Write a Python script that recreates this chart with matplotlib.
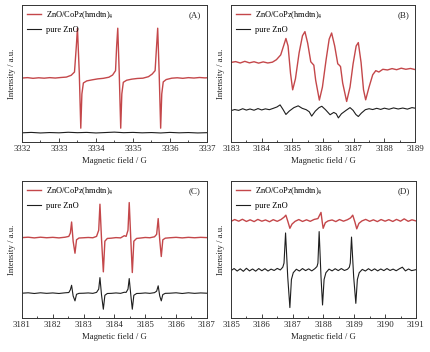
import matplotlib
matplotlib.use("Agg")
import matplotlib.pyplot as plt
from matplotlib.ticker import MultipleLocator

plt.rcParams["font.family"] = ["Liberation Serif", "DejaVu Serif"]
plt.rcParams["mathtext.fontset"] = "stix"

RED = "#c4474a"
BLACK = "#1e1e1e"
label_red = "ZnO/CoPz(hmdtn)$_4$"
label_black = "pure ZnO"

# ---- panel A ----
a_red_field = [3332.00, 3332.15, 3332.30, 3332.45, 3332.60, 3332.75, 3332.90, 3333.05,
               3333.20, 3333.33, 3333.42, 3333.47, 3333.50, 3333.55, 3333.59, 3333.62,
               3333.66, 3333.75, 3333.90, 3334.05, 3334.20, 3334.35, 3334.45, 3334.53,
               3334.56, 3334.59, 3334.63, 3334.67, 3334.70, 3334.74, 3334.83, 3334.97,
               3335.12, 3335.27, 3335.42, 3335.52, 3335.60, 3335.64, 3335.67, 3335.71,
               3335.75, 3335.78, 3335.82, 3335.90, 3336.05, 3336.20, 3336.35, 3336.50,
               3336.65, 3336.80, 3336.95, 3337.00]
a_red = [46.6, 46.9, 46.4, 46.8, 46.5, 46.9, 46.6, 47.0,
         47.3, 48.6, 51.0, 70.0, 83.0, 50.0, 10.0, 35.0,
         43.0, 44.5, 45.3, 46.0, 46.4, 47.2, 48.8, 52.0,
         70.0, 83.0, 50.0, 10.0, 35.0, 43.5, 45.0, 45.8,
         46.3, 46.5, 47.6, 49.5, 52.0, 70.0, 83.0, 50.0,
         10.0, 35.0, 43.8, 45.5, 46.5, 46.8, 46.4, 46.9,
         46.6, 47.0, 46.7, 46.8]
a_black_field = [3332.00, 3332.25, 3332.50, 3332.75, 3333.00, 3333.25, 3333.50, 3333.75,
                 3334.00, 3334.25, 3334.50, 3334.75, 3335.00, 3335.25, 3335.50, 3335.75,
                 3336.00, 3336.25, 3336.50, 3336.75, 3337.00]
a_black = [6.6, 6.9, 6.5, 6.8, 6.6, 7.0, 6.7, 6.9, 6.5, 6.8, 7.1, 6.7, 6.9, 6.6, 6.8,
           6.5, 6.9, 6.6, 6.8, 6.5, 6.7]

# ---- panel B ----
b_red_field = [3183.00, 3183.15, 3183.30, 3183.45, 3183.60, 3183.75, 3183.90, 3184.05,
               3184.20, 3184.35, 3184.48, 3184.62, 3184.72, 3184.79, 3184.86, 3184.94,
               3185.01, 3185.10, 3185.22, 3185.33, 3185.41, 3185.50, 3185.60, 3185.66,
               3185.70, 3185.76, 3185.88, 3185.98, 3186.10, 3186.20, 3186.28, 3186.38,
               3186.48, 3186.53, 3186.57, 3186.64, 3186.77, 3186.88, 3186.98, 3187.08,
               3187.15, 3187.24, 3187.32, 3187.39, 3187.50, 3187.62, 3187.72, 3187.82,
               3187.95, 3188.10, 3188.25, 3188.40, 3188.55, 3188.70, 3188.85, 3189.00]
b_red = [58.0, 58.6, 57.6, 58.8, 57.7, 58.5, 57.5, 58.4,
         57.6, 58.2, 60.0, 63.5, 70.5, 75.5, 70.0, 50.0,
         38.0, 46.0, 65.0, 77.5, 80.5, 72.0, 58.5, 57.0,
         56.0, 45.0, 30.5, 40.0, 60.0, 75.0, 79.5, 70.0,
         57.0, 56.0, 55.0, 43.0, 29.5, 40.0, 57.0, 70.0,
         72.5, 58.0, 38.0, 30.7, 40.0, 49.0, 52.0, 51.0,
         53.0, 52.5, 53.5, 52.7, 53.8, 53.0, 53.6, 52.8]
b_black_field = [3183.00, 3183.12, 3183.25, 3183.38, 3183.50, 3183.62, 3183.75, 3183.88,
                 3184.00, 3184.12, 3184.25, 3184.38, 3184.50, 3184.60, 3184.70, 3184.79,
                 3184.90, 3185.05, 3185.19, 3185.32, 3185.45, 3185.55, 3185.63, 3185.75,
                 3185.87, 3185.96, 3186.08, 3186.23, 3186.35, 3186.43, 3186.50, 3186.60,
                 3186.75, 3186.88, 3186.98, 3187.07, 3187.15, 3187.25, 3187.38, 3187.50,
                 3187.62, 3187.75, 3187.88, 3188.00, 3188.15, 3188.30, 3188.45, 3188.60,
                 3188.75, 3188.90, 3189.00]
b_black = [22.8, 23.6, 23.0, 24.2, 23.2, 24.0, 23.1, 24.3,
           23.3, 24.1, 23.5, 24.5, 25.5, 27.0, 23.5, 20.0,
           22.5, 25.0, 26.3, 24.5, 23.5, 22.0, 18.8, 22.5,
           25.0, 26.0, 23.5, 19.8, 21.5, 20.5, 17.5, 20.5,
           23.0, 25.0, 23.0, 20.0, 18.5, 21.0, 23.5, 24.2,
           23.6, 24.5, 23.7, 24.6, 23.8, 24.8, 24.0, 24.7,
           23.9, 25.0, 24.6]

# ---- panel C ----
c_field = [3181.00, 3181.20, 3181.40, 3181.60, 3181.80, 3182.00, 3182.20, 3182.40,
           3182.52, 3182.57, 3182.61, 3182.66, 3182.72, 3182.77, 3182.85, 3183.00,
           3183.15, 3183.30, 3183.42, 3183.49, 3183.53, 3183.58, 3183.64, 3183.69,
           3183.77, 3183.90, 3184.05, 3184.20, 3184.32, 3184.38, 3184.44, 3184.48,
           3184.53, 3184.58, 3184.63, 3184.72, 3184.85, 3185.00, 3185.15, 3185.30,
           3185.37, 3185.42, 3185.47, 3185.52, 3185.57, 3185.65, 3185.80, 3186.00,
           3186.20, 3186.40, 3186.60, 3186.80, 3187.00]
c_red = [58.6, 58.9, 58.4, 58.9, 58.5, 58.8, 58.4, 58.9,
         59.5, 62.0, 70.0, 56.0, 47.2, 57.0, 58.3, 58.5,
         58.7, 58.5, 59.5, 64.0, 83.0, 58.0, 33.6, 56.0,
         58.0, 58.2, 58.6, 58.4, 60.0, 59.5, 64.0, 84.2,
         58.0, 33.1, 56.0, 58.0, 58.3, 58.7, 58.5, 59.2,
         61.0, 72.5, 57.0, 44.8, 57.0, 58.2, 58.5, 58.8,
         58.4, 58.8, 58.5, 58.8, 58.6]
c_black = [18.0, 18.3, 17.8, 18.3, 17.9, 18.2, 17.8, 18.3,
           18.5, 20.5, 23.8, 16.0, 12.4, 17.2, 17.9, 18.0,
           18.2, 17.9, 18.6, 21.0, 29.4, 17.0, 6.3, 16.5,
           17.8, 17.9, 18.2, 17.9, 18.7, 18.6, 21.0, 28.7,
           17.0, 6.3, 16.5, 17.8, 17.9, 18.2, 17.9, 18.4,
           19.5, 23.4, 16.0, 12.4, 17.0, 17.9, 18.0, 18.3,
           17.8, 18.3, 17.9, 18.2, 18.0]

# ---- panel D ----
d_red_field = [3185.00, 3185.12, 3185.25, 3185.37, 3185.50, 3185.62, 3185.75, 3185.87,
               3186.00, 3186.12, 3186.25, 3186.37, 3186.50, 3186.62, 3186.72, 3186.78,
               3186.85, 3186.91, 3186.98, 3187.08, 3187.20, 3187.32, 3187.45, 3187.57,
               3187.70, 3187.82, 3187.92, 3187.96, 3187.99, 3188.06, 3188.15, 3188.28,
               3188.40, 3188.52, 3188.65, 3188.78, 3188.88, 3188.95, 3189.02, 3189.08,
               3189.15, 3189.25, 3189.37, 3189.50, 3189.62, 3189.75, 3189.87, 3190.00,
               3190.12, 3190.25, 3190.37, 3190.50, 3190.62, 3190.75, 3190.87, 3191.00]
d_red = [70.5, 71.8, 70.6, 72.0, 70.4, 71.6, 70.3, 71.9,
         70.6, 71.5, 70.2, 71.7, 70.5, 71.8, 73.5, 75.0,
         70.0, 65.4, 68.5, 70.5, 71.8, 70.4, 71.6, 70.5,
         71.9, 72.5, 77.0, 70.0, 65.4, 69.5, 70.8, 71.5,
         70.3, 71.8, 70.6, 71.7, 73.0, 75.0, 70.0, 65.0,
         69.0, 70.8, 71.9, 70.5, 71.6, 70.3, 71.8, 70.6,
         71.7, 70.4, 71.9, 70.6, 72.3, 70.5, 71.6, 70.8]
d_black_field = [3185.00, 3185.10, 3185.20, 3185.30, 3185.40, 3185.50, 3185.60, 3185.70,
                 3185.80, 3185.90, 3186.00, 3186.10, 3186.20, 3186.30, 3186.40, 3186.50,
                 3186.60, 3186.68, 3186.72, 3186.77, 3186.84, 3186.91, 3186.96, 3187.02,
                 3187.12, 3187.22, 3187.32, 3187.42, 3187.52, 3187.62, 3187.72, 3187.79,
                 3187.82, 3187.86, 3187.92, 3187.97, 3188.02, 3188.08, 3188.18, 3188.28,
                 3188.38, 3188.48, 3188.58, 3188.68, 3188.78, 3188.84, 3188.87, 3188.91,
                 3188.98, 3189.05, 3189.10, 3189.16, 3189.26, 3189.36, 3189.46, 3189.56,
                 3189.66, 3189.76, 3189.86, 3189.96, 3190.06, 3190.16, 3190.26, 3190.36,
                 3190.46, 3190.56, 3190.66, 3190.76, 3190.86, 3191.00]
d_black = [34.5, 36.0, 34.2, 35.8, 34.0, 36.2, 34.3, 35.7,
           34.1, 36.0, 34.4, 35.9, 34.2, 35.6, 34.6, 36.1,
           35.0, 37.0, 40.0, 62.0, 30.0, 7.5, 28.0, 33.0,
           35.5, 34.2, 36.0, 34.5, 35.8, 34.3, 35.9, 37.5,
           40.0, 63.0, 30.0, 9.4, 28.0, 33.0, 35.6, 34.3,
           35.9, 34.5, 36.0, 34.6, 35.5, 37.0, 40.0, 59.0,
           30.0, 10.6, 28.0, 33.0, 35.4, 34.2, 35.9, 34.4,
           35.8, 34.3, 35.7, 34.5, 36.0, 34.6, 35.6, 34.4,
           35.8, 37.0, 34.3, 35.7, 34.5, 35.2]

panels = [
    ("(A)", [0.051, 0.597, 0.429, 0.389], (3332, 3337),
     a_red_field, a_red, a_black_field, a_black),
    ("(B)", [0.536, 0.597, 0.427, 0.389], (3183, 3189),
     b_red_field, b_red, b_black_field, b_black),
    ("(C)", [0.051, 0.097, 0.429, 0.389], (3181, 3187),
     c_field, c_red, c_field, c_black),
    ("(D)", [0.536, 0.097, 0.429, 0.389], (3185, 3191),
     d_red_field, d_red, d_black_field, d_black),
]

fig = plt.figure(figsize=(4.31, 3.52), dpi=100)

for tag, rect, xlim, xr, yr, xb, yb in panels:
    ax = fig.add_axes(rect)
    ax.plot(xr, yr, color=RED, lw=1.0, label=label_red)
    ax.plot(xb, yb, color=BLACK, lw=0.8, label=label_black)
    ax.set_xlim(*xlim)
    ax.set_ylim(0, 100)
    ax.xaxis.set_major_locator(MultipleLocator(1))
    ax.xaxis.set_minor_locator(MultipleLocator(0.5))
    ax.xaxis.set_major_formatter(plt.FuncFormatter(lambda v, p: "%d" % v))
    ax.tick_params(axis="x", which="major", direction="in", length=3, width=0.6,
                   labelsize=6.3, pad=2.5, colors="#222222")
    ax.tick_params(axis="x", which="minor", direction="in", length=1.5, width=0.5)
    ax.tick_params(axis="y", left=False, labelleft=False)
    for s in ax.spines.values():
        s.set_linewidth(0.7)
        s.set_color("#333333")
    ax.set_xlabel("Magnetic field / G", fontsize=6.3, labelpad=3, color="#222222")
    ax.set_ylabel("Intensity / a.u.", fontsize=6.3, labelpad=4, color="#222222")
    ax.text(0.935, 0.925, tag, transform=ax.transAxes, ha="center", va="center",
            fontsize=6.5, color="#222222")
    ax.legend(loc="upper left", frameon=False, fontsize=6, handlelength=1.7,
              handletextpad=0.6, labelspacing=0.55, borderaxespad=0.2,
              borderpad=0.35)

fig.savefig("out.png", dpi=100)
